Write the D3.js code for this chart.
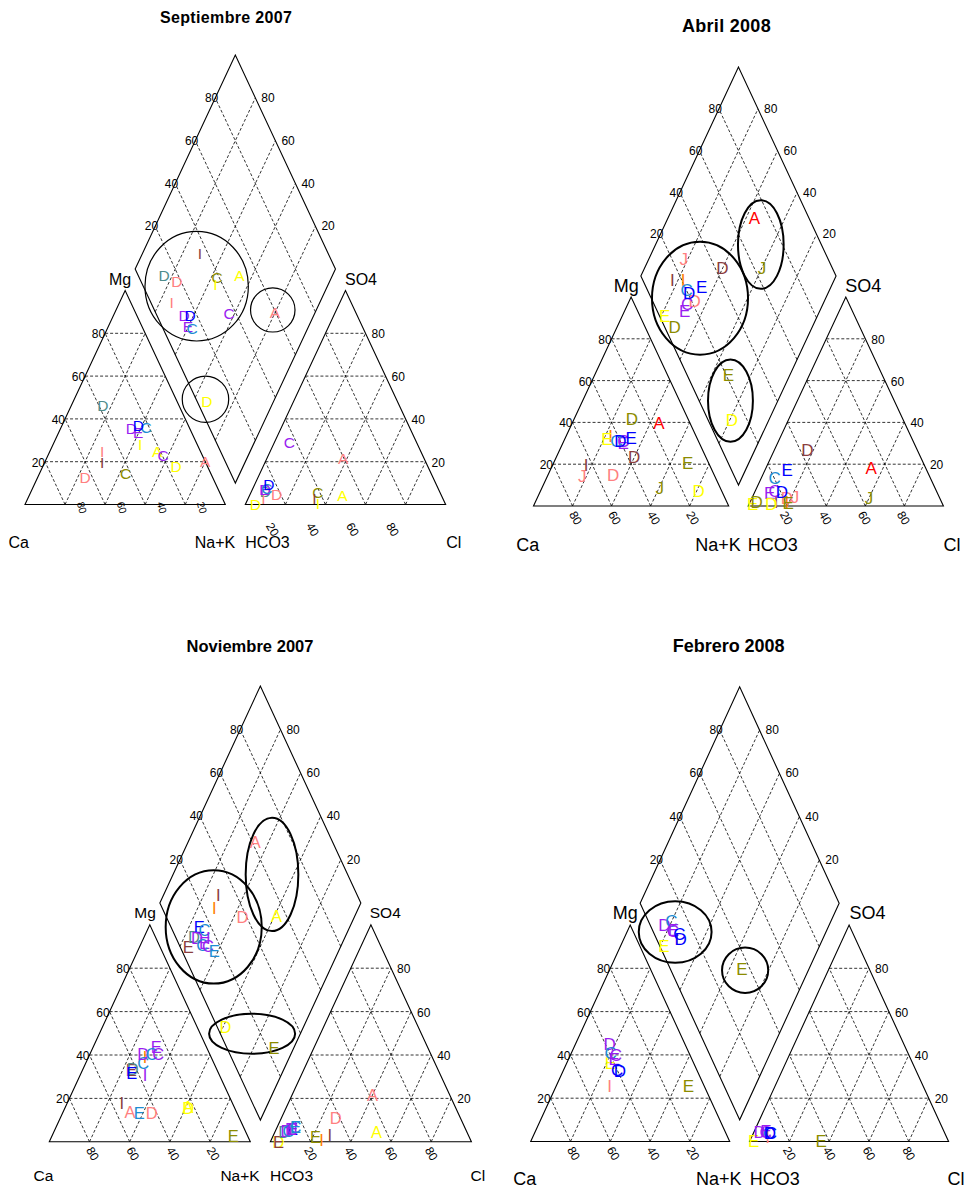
<!DOCTYPE html>
<html><head><meta charset="utf-8">
<script src="https://cdn.jsdelivr.net/npm/d3@7"></script>
<style>
body{margin:0;background:#fff}
svg{display:block}
text{font-family:"Liberation Sans",Arial,sans-serif}
</style>
</head><body>
<svg id="c" width="966" height="1189"></svg>
<script>
// ---------------- DATA ----------------
const panelTitles = ["Septiembre 2007", "Abril 2008", "Noviembre  2007", "Febrero 2008"];
const tickValues = [20, 40, 60, 80];
const tickLabels = ["20", "40", "60", "80"];
const cornerLabels = ["Mg", "SO4", "Ca", "Na+K", "HCO3", "Cl"];

// Septiembre 2007
const sepLetter = ["A","A","C","C","D","D","D","I","I","I","D","E","C","D"];
const sepGroup  = ["pink","yellow","purple","olive","teal","pink","yellow","brown","pink","yellow","purple","purple","sky","blue"];
const sepCa  = [0,21.7,19.5,42.5,38,63.7,15.7,51.7,49,28.5,29,26.6,21.4,25];
const sepMg  = [20,24.6,23.1,14.6,46.2,12.6,17.6,19.6,25,28,35.7,33.7,36.2,36.7];
const sepCl  = [38,46.5,7.5,33.5,7,13.3,5,33,7.5,36,6.5,6,7,7];
const sepSO4 = [21.6,4,29,5.5,6,4.5,0,3,3,0.5,7,7,7.5,9.5];
const sepRingCM = [65.3, 21.75, 34.5];
const sepRingSC = [26.7, 59.15, 4.7];
const sepRingRx = [25.8, 11.1, 11.6];
const sepRingRy = [25.6, 10.3, 10.8];

// Abril 2008
const abrLetter = ["A","J","J","D","I","I","D","C","E","C","D","E","E","D","E","D"];
const abrGroup  = ["red","olive","pink","brown","brown","orange","pink","purple","purple","sky","blue","blue","yellow","olive","olive","yellow"];
const abrCa  = [15.9,31,68,37,63.5,43.8,52,38.5,39,42,40,33.7,46.5,28.9,10.8,12];
const abrMg  = [39.7,8.6,14,23,19.2,33.4,14.4,31,30,31,31,32.4,31.7,41.4,20.5,6.7];
const abrCl  = [54,60,22,17,13.5,19,18,10,8,7,14,11.5,2,3.5,20,11.5];
const abrSO4 = [18,3.8,4,26.5,1.5,1.5,3.5,7,6,13,6.5,17,0.5,1.5,1,0.5];
const abrRingCM = [64.4, 46.1, 24.3];
const abrRingSC = [25, 69, 16.1];
const abrRingRx = [24.6, 11.7, 11.5];
const abrRingRy = [27, 21.2, 19.7];

// Noviembre 2007
const novLetter = ["A","A","D","I","I","E","D","E","D","E","C","D","E","I","C","C","E"];
const novGroup  = ["pink","yellow","pink","brown","orange","olive","yellow","brown","teal","blue","sky","purple","purple","purple","sky","purple","sky"];
const novCa  = [53,23,42.4,55.1,32.9,7.1,23,42.7,41.8,43.2,35,33,25,37,28.8,25.6,48.5];
const novMg  = [13.6,16,13.4,17.7,38.9,2.7,15.7,33,33.4,31.6,36.5,40.5,43.5,30.8,40.5,40.5,13.4];
const novCl  = [40,50.6,27,28,25,21.5,4,4,4.5,8,9,5.5,7,9,6.5,8,9];
const novSO4 = [21.5,4.4,11,3,1,2,0,0,4.7,6,7,5,6,7,5,6,7];
const novRingCM = [67.7, 50.8, 24];
const novRingSC = [21.3, 62.4, 15.8];
const novRingRx = [23.9, 13.1, 21.4];
const novRingRy = [26.1, 26.1, 9.2];

// Febrero 2008
const febLetter = ["E","I","E","D","C","E","C","C","D"];
const febGroup  = ["olive","pink","yellow","purple","sky","purple","purple","blue","blue"];
const febCa  = [8,47.5,42,38,39.5,39,37.3,40,39];
const febMg  = [25.6,25.6,36,44.6,40.7,38,39.9,33,32.3];
const febCl  = [36,8,2,3,8,6,6,9,8.5];
const febSO4 = [0,2,0,4,3.5,4.5,4,3.5,3.5];
const febRingCM = [75.8, 31.8];
const febRingSC = [11, 37.3];
const febRingRx = [18.3, 11.6];
const febRingRy = [14.2, 10.5];

// ---------------- STYLE / LAYOUT ----------------
const palette = {pink:"#FF8080", yellow:"#FFFF00", purple:"#9A1EF0", blue:"#0000FF", sky:"#1E8CD2",
  teal:"#4F8C8C", olive:"#8C8C00", brown:"#8B3D3D", red:"#FF0000", orange:"#FF8000"};

const panels = [
  {letter:sepLetter, group:sepGroup, Ca:sepCa, Mg:sepMg, Cl:sepCl, SO4:sepSO4, rCM:sepRingCM, rSC:sepRingSC, rX:sepRingRx, rY:sepRingRy},
  {letter:abrLetter, group:abrGroup, Ca:abrCa, Mg:abrMg, Cl:abrCl, SO4:abrSO4, rCM:abrRingCM, rSC:abrRingSC, rX:abrRingRx, rY:abrRingRy},
  {letter:novLetter, group:novGroup, Ca:novCa, Mg:novMg, Cl:novCl, SO4:novSO4, rCM:novRingCM, rSC:novRingSC, rX:novRingRx, rY:novRingRy},
  {letter:febLetter, group:febGroup, Ca:febCa, Mg:febMg, Cl:febCl, SO4:febSO4, rCM:febRingCM, rSC:febRingSC, rX:febRingRx, rY:febRingRy}
];

const layouts = [
  {ox:25, oy:504.5, L:200.3, H:214, title:[226,17], tFont:16, tLen:132,
   lblFont:16, mg:[120,279], so4:[361,279], botY:542, ca:18.7, na:215, hco3:267.5, cl:453.7,
   ptFont:15.5, tickFont:12, ringW:1.2,
   catBase:{dx:17,dy:3,rot:75,size:10.5}, anBase:{dx:-13,dy:25,rot:60,size:12}},
  {ox:533.5, oy:506, L:195.2, H:209, title:[726.3,25.7], tFont:18, tLen:88.7,
   lblFont:18, mg:[626.3,285.7], so4:[863.2,285.7], botY:545.4, ca:527.7, na:718, hco3:772.8, cl:952,
   ptFont:17, tickFont:12, ringW:2,
   catBase:{dx:3,dy:12,rot:60,size:12}, anBase:{dx:-1,dy:12,rot:60,size:12}},
  {ox:49.3, oy:1141.8, L:201, H:217, title:[250,646], tFont:16.5, tLen:127,
   lblFont:15.5, mg:[145,912.9], so4:[385.3,912.9], botY:1175.2, ca:43.5, na:240, hco3:291.5, cl:477.8,
   ptFont:16.5, tickFont:12, ringW:2,
   catBase:{dx:3,dy:12,rot:60,size:12}, anBase:{dx:0,dy:12,rot:60,size:12}},
  {ox:530.7, oy:1141.5, L:199, H:216.5, title:[728.7,646], tFont:18, tLen:111.7,
   lblFont:18, mg:[625.3,913.2], so4:[867.5,913.2], botY:1178.8, ca:524.7, na:718.8, hco3:774.8, cl:956,
   ptFont:17, tickFont:12, ringW:2,
   catBase:{dx:3,dy:12,rot:60,size:12}, anBase:{dx:0,dy:12,rot:60,size:12}}
];

// ---------------- DRAW ----------------
const svg = d3.select("#c");
const GAP = 0.1;

panels.forEach((p, i) => {
  const lay = layouts[i];
  const x = d3.scaleLinear().domain([0, 1]).range([lay.ox, lay.ox + lay.L]);
  const y = d3.scaleLinear().domain([0, 1]).range([lay.oy, lay.oy - lay.H]);
  const g = svg.append("g");
  const line = d3.line().x(d => x(d[0])).y(d => y(d[1]));

  // coordinate transforms (unit space: triangle side 1, height 1)
  const catPt = (ca, mg) => { const m = mg/100, na = 1 - ca/100 - m; return [na + m/2, m]; };
  const anPt = (cl, so4) => { const s = so4/100, c = cl/100; return [1 + GAP + c + s/2, s]; };
  const diaPt = (cm, sc) => [1 + GAP/2 - cm/2 + sc/2, GAP + cm + sc];

  const fr = tickValues.map(v => v/100);

  // grid (dashed)
  const grid = [];
  fr.forEach(k => {
    grid.push([[k/2, k], [1 - k/2, k]]);
    grid.push([[k, 0], [k + (1-k)/2, 1 - k]]);
    grid.push([[1 - k, 0], [(1-k)/2, 1 - k]]);
    const o = 1 + GAP;
    grid.push([[o + k/2, k], [o + 1 - k/2, k]]);
    grid.push([[o + k, 0], [o + k + (1-k)/2, 1 - k]]);
    grid.push([[o + 1 - k, 0], [o + (1-k)/2, 1 - k]]);
    grid.push([diaPt(k, 0), diaPt(k, 1)]);
    grid.push([diaPt(0, k), diaPt(1, k)]);
  });
  g.append("g").selectAll("path").data(grid).join("path")
    .attr("d", line).attr("fill", "none").attr("stroke", "#000")
    .attr("stroke-width", 0.8).attr("stroke-dasharray", "3,2");

  // outlines
  const shapes = [
    [[0,0],[1,0],[0.5,1]],
    [[1+GAP,0],[2+GAP,0],[1.5+GAP,1]],
    [diaPt(0,0), diaPt(1,0), diaPt(1,1), diaPt(0,1)]
  ];
  g.append("g").selectAll("path").data(shapes).join("path")
    .attr("d", d => line(d) + "Z").attr("fill", "none").attr("stroke", "#000").attr("stroke-width", 1.1);

  // tick labels
  const tg = g.append("g").attr("font-size", lay.tickFont).attr("fill", "#000");
  fr.forEach((k, j) => {
    tg.append("text").attr("x", x(k/2)).attr("y", y(k) + 1)
      .attr("text-anchor", "end").attr("dominant-baseline", "central").text(tickLabels[j]);
    tg.append("text").attr("x", x(1 + GAP + 1 - k/2) + 6).attr("y", y(k) + 1)
      .attr("text-anchor", "start").attr("dominant-baseline", "central").text(tickLabels[j]);
    const dl = diaPt(1, k);
    tg.append("text").attr("x", x(dl[0]) + 3).attr("y", y(dl[1]))
      .attr("text-anchor", "end").attr("dominant-baseline", "central").text(tickLabels[j]);
    const dr = diaPt(k, 1);
    tg.append("text").attr("x", x(dr[0]) + 6).attr("y", y(dr[1]))
      .attr("text-anchor", "start").attr("dominant-baseline", "central").text(tickLabels[j]);
    const cb = lay.catBase;
    tg.append("text").attr("transform", `translate(${x(k) + cb.dx},${y(0) + cb.dy}) rotate(${cb.rot})`)
      .attr("font-size", cb.size).attr("text-anchor", "middle").attr("dominant-baseline", "central")
      .text(tickLabels[3 - j]);
    const ab = lay.anBase;
    tg.append("text").attr("transform", `translate(${x(1 + GAP + k) + ab.dx},${y(0) + ab.dy}) rotate(${ab.rot})`)
      .attr("font-size", ab.size).attr("text-anchor", "middle").attr("dominant-baseline", "central")
      .text(tickLabels[j]);
  });

  // corner labels
  const cl = g.append("g").attr("font-size", lay.lblFont).attr("fill", "#000")
    .attr("text-anchor", "middle").attr("dominant-baseline", "central");
  const cPos = [lay.mg, lay.so4, [lay.ca, lay.botY], [lay.na, lay.botY], [lay.hco3, lay.botY], [lay.cl, lay.botY]];
  cornerLabels.forEach((t, j) => cl.append("text").attr("x", cPos[j][0]).attr("y", cPos[j][1]).text(t));

  // title
  g.append("text").attr("x", lay.title[0]).attr("y", lay.title[1])
    .attr("text-anchor", "middle").attr("dominant-baseline", "central")
    .attr("font-size", lay.tFont).attr("font-weight", "bold")
    .attr("textLength", lay.tLen).attr("lengthAdjust", "spacing")
    .text(panelTitles[i]);

  // ellipses (groups in the diamond)
  const rings = p.rCM.map((cm, j) => ({c: diaPt(cm/100, p.rSC[j]/100), rx: p.rX[j]/100, ry: p.rY[j]/100}));
  g.append("g").selectAll("ellipse").data(rings).join("ellipse")
    .attr("cx", d => x(d.c[0])).attr("cy", d => y(d.c[1]))
    .attr("rx", d => x(d.rx) - x(0)).attr("ry", d => y(0) - y(d.ry))
    .attr("fill", "none").attr("stroke", "#000").attr("stroke-width", lay.ringW);

  // samples
  const rows = p.letter.map((l, j) => {
    const cm = (p.Ca[j] + p.Mg[j]) / 100, sc = (p.Cl[j] + p.SO4[j]) / 100;
    return {l, col: palette[p.group[j]], cat: catPt(p.Ca[j], p.Mg[j]), an: anPt(p.Cl[j], p.SO4[j]), dia: diaPt(cm, sc)};
  });
  ["cat", "an", "dia"].forEach(key => {
    g.append("g").selectAll("text").data(rows).join("text")
      .attr("x", d => x(d[key][0])).attr("y", d => y(d[key][1]))
      .attr("text-anchor", "middle").attr("dominant-baseline", "central")
      .attr("font-size", lay.ptFont).attr("fill", d => d.col).text(d => d.l);
  });
});
</script>
</body></html>
